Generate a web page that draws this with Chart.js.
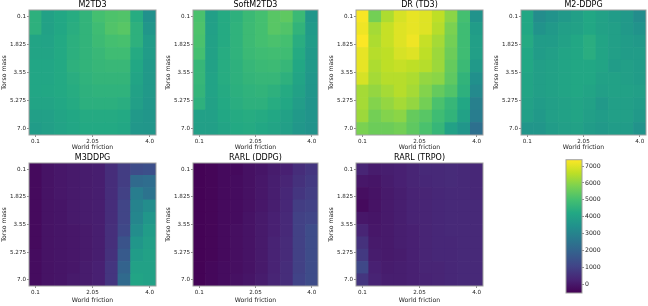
<!DOCTYPE html>
<html>
<head>
<meta charset="utf-8">
<script src="https://cdn.jsdelivr.net/npm/chart.js@4.4.0/dist/chart.umd.min.js"></script>
<style>
  html, body { margin: 0; padding: 0; background: #fff; overflow: hidden; }
  #fig { position: relative; width: 648px; height: 306px; overflow: hidden; background: #fff; }
  .panel { position: absolute; }
</style>
</head>
<body>
<div id="fig"></div>
<script>
// grid of the sweep (cell centres)
const friction = [0.1, 0.5333, 0.9667, 1.4, 1.8333, 2.2667, 2.7, 3.1333, 3.5667, 4.0];
const torsoMass = [0.1, 0.8667, 1.6333, 2.4, 3.1667, 3.9333, 4.7, 5.4667, 6.2333, 7.0];

const frictionTicks = [0.1, 2.05, 4.0];
const frictionTickLabels = ["0.1", "2.05", "4.0"];
const massTicks = [0.1, 1.825, 3.55, 5.275, 7.0];
const massTickLabels = ["0.1", "1.825", "3.55", "5.275", "7.0"];
const colorbarTicks = [0, 1000, 2000, 3000, 4000, 5000, 6000, 7000];

// colour scale limits
const vMin = -506;
const vMax = 7376;

// rows = torso mass (top to bottom), columns = world friction
const m2td3 = [
  [4500, 4000, 4200, 4350, 4600, 5000, 5150, 5200, 4350, 3450],
  [4500, 4000, 4200, 4400, 4600, 4900, 5200, 5300, 4500, 3600],
  [4100, 4050, 4250, 4450, 4600, 4850, 5000, 5050, 4500, 3800],
  [4100, 4100, 4250, 4450, 4600, 4750, 4900, 4900, 4300, 3800],
  [4150, 4150, 4250, 4500, 4600, 4700, 4750, 4750, 4200, 3700],
  [4150, 4150, 4250, 4400, 4550, 4650, 4650, 4650, 4100, 3700],
  [4150, 4200, 4250, 4350, 4500, 4550, 4550, 4550, 4000, 3700],
  [4100, 4100, 4200, 4300, 4450, 4450, 4450, 4400, 3900, 3650],
  [3900, 3950, 4100, 4200, 4300, 4300, 4300, 4250, 3700, 3600],
  [3800, 3900, 4050, 4150, 4250, 4250, 4250, 4200, 3650, 3600]
];
const softM2td3 = [
  [5100, 3900, 4300, 4500, 4800, 5000, 5300, 5400, 4800, 3600],
  [5150, 3950, 4300, 4550, 4850, 5000, 5300, 5200, 4600, 3750],
  [5100, 4000, 4300, 4550, 4850, 5000, 5100, 5000, 4400, 3800],
  [5000, 4000, 4350, 4550, 4800, 4900, 4950, 4900, 4300, 3700],
  [4700, 4000, 4350, 4500, 4700, 4800, 4850, 4700, 4200, 3700],
  [4700, 4050, 4350, 4500, 4650, 4700, 4700, 4500, 4100, 3650],
  [4650, 4050, 4300, 4450, 4550, 4600, 4500, 4300, 4000, 3600],
  [4500, 4000, 4250, 4400, 4500, 4500, 4350, 4200, 3850, 3550],
  [3950, 3950, 4200, 4300, 4350, 4300, 4200, 4000, 3700, 3550],
  [3900, 3900, 4100, 4250, 4300, 4200, 4100, 3900, 3650, 3500]
];
const drTd3 = [
  [7300, 5700, 6400, 6900, 7100, 7000, 6600, 6000, 5000, 3500],
  [7200, 6300, 6700, 7000, 7100, 7000, 6500, 5800, 4900, 3800],
  [7350, 6400, 6700, 7000, 7200, 6700, 6300, 5700, 4900, 3900],
  [7100, 6500, 6600, 6900, 7000, 6600, 6200, 5600, 4900, 3900],
  [7100, 6400, 6600, 6700, 6600, 6500, 6200, 5500, 4800, 3700],
  [6900, 6300, 6500, 6500, 6400, 6100, 6000, 5400, 4600, 3400],
  [6300, 6100, 6300, 6500, 6300, 5900, 5500, 5200, 4500, 3200],
  [6300, 5900, 6100, 6300, 6100, 5700, 5100, 4700, 4200, 2900],
  [6200, 5700, 5900, 6000, 5500, 5300, 4900, 4600, 4000, 2800],
  [5800, 5600, 5600, 5700, 5400, 5100, 4700, 4000, 3600, 2400]
];
const m2ddpg = [
  [4200, 3300, 3500, 3700, 3900, 4200, 4000, 3800, 3700, 3300],
  [4200, 3500, 3700, 3900, 4000, 4200, 4000, 3900, 3700, 3500],
  [4300, 3800, 3800, 4000, 4200, 4400, 4100, 3900, 3800, 3700],
  [4200, 3800, 3900, 4100, 4200, 4400, 4100, 3900, 3800, 3800],
  [4200, 3900, 4000, 4100, 4200, 4200, 4100, 3800, 3900, 3800],
  [4100, 3900, 4000, 4100, 4200, 4200, 4000, 4000, 3900, 3800],
  [4100, 3900, 4000, 4100, 4200, 4100, 3900, 4000, 4000, 3900],
  [4000, 3800, 3900, 4000, 4100, 4000, 3700, 3900, 3900, 3800],
  [3900, 3700, 3900, 4000, 4100, 3900, 3800, 3900, 3900, 3700],
  [3600, 3600, 3800, 3900, 4000, 3800, 3700, 3800, 3800, 3500]
];
const m3ddpg = [
  [-300, -100, 0, 50, 100, 150, 500, 900, 1300, 1400],
  [-300, -100, 0, 50, 100, 150, 500, 900, 2200, 2300],
  [-300, -100, 0, 50, 100, 150, 500, 1000, 2800, 2500],
  [-300, -100, -50, 50, 100, 150, 500, 1100, 3000, 3300],
  [-300, -100, -50, 50, 100, 150, 500, 1100, 3100, 3600],
  [-300, -100, -50, 0, 50, 150, 550, 1200, 3300, 3800],
  [-300, -100, -50, 0, 50, 150, 550, 1500, 3600, 3900],
  [-250, -100, -50, 0, 50, 150, 600, 1700, 3800, 4000],
  [-250, -100, -50, 0, 100, 200, 700, 2000, 4000, 4000],
  [-250, -100, -50, 50, 100, 200, 700, 2200, 4100, 4000]
];
const rarlDdpg = [
  [-450, -400, -300, -300, -150, -50, 100, 200, 500, 700],
  [-450, -400, -300, -250, -150, 0, 150, 300, 600, 800],
  [-450, -400, -300, -250, -150, 0, 150, 350, 700, 900],
  [-450, -400, -300, -250, -150, 0, 150, 350, 900, 1000],
  [-450, -400, -300, -250, -100, 50, 200, 400, 1000, 1100],
  [-450, -400, -300, -200, -100, 50, 200, 400, 1000, 1300],
  [-450, -400, -300, -200, -100, 50, 250, 450, 1000, 1300],
  [-450, -400, -300, -200, -100, 50, 250, 450, 1000, 1300],
  [-450, -350, -250, -200, -100, 50, 250, 500, 1000, 1300],
  [-450, -350, -250, -150, -50, 100, 300, 500, 1050, 1300]
];
const rarlTrpo = [
  [300, 100, 150, 200, 300, 400, 400, 450, 400, 350],
  [0, -50, 100, 200, 300, 350, 400, 450, 400, 350],
  [-200, -100, 50, 150, 250, 300, 350, 400, 400, 350],
  [-300, -100, 50, 150, 250, 300, 350, 400, 400, 400],
  [0, -50, 50, 150, 250, 300, 350, 400, 400, 400],
  [300, 0, 50, 150, 200, 300, 350, 400, 400, 400],
  [600, 50, 50, 150, 200, 300, 350, 350, 400, 400],
  [800, 100, 50, 100, 200, 300, 350, 350, 400, 400],
  [1200, 200, 100, 150, 200, 300, 300, 350, 400, 400],
  [700, 250, 150, 150, 200, 250, 300, 350, 400, 400]
];

const viridis = ["#440154", "#482475", "#414487", "#355f8d", "#2a788e", "#21918c",
                 "#22a884", "#44bf70", "#7ad151", "#bddf26", "#fde725"];

function hexRgb(h) {
  return [parseInt(h.slice(1, 3), 16), parseInt(h.slice(3, 5), 16), parseInt(h.slice(5, 7), 16)];
}
function colorFor(v) {
  let t = (v - vMin) / (vMax - vMin);
  t = Math.max(0, Math.min(1, t)) * (viridis.length - 1);
  const i = Math.min(Math.floor(t), viridis.length - 2);
  const f = t - i;
  const a = hexRgb(viridis[i]), b = hexRgb(viridis[i + 1]);
  const c = a.map((x, k) => Math.round(x + (b[k] - x) * f));
  return "rgb(" + c.join(",") + ")";
}

const FONT = "'DejaVu Sans', sans-serif";

// light grey frame round each plot area
const framePlugin = {
  id: "frame",
  afterDatasetsDraw(chart) {
    const a = chart.chartArea, ctx = chart.ctx;
    ctx.save();
    ctx.strokeStyle = "#a0a0a0";
    ctx.lineWidth = 1;
    ctx.strokeRect(a.left, a.top, a.right - a.left, a.bottom - a.top);
    ctx.restore();
  }
};

const fig = document.getElementById("fig");
function addCanvas(id, left, top, width, height) {
  const d = document.createElement("div");
  d.className = "panel";
  d.style.left = left + "px"; d.style.top = top + "px";
  d.style.width = width + "px"; d.style.height = height + "px";
  const c = document.createElement("canvas");
  c.id = id;
  d.appendChild(c);
  fig.appendChild(d);
  return c;
}

const fStep = friction[1] - friction[0];
const mStep = torsoMass[1] - torsoMass[0];

function heatmap(id, title, values, plot, axisH) {
  const [L, T, R, B] = plot;
  const canvas = addCanvas(id, L - 29, T - 10, (R - L) + 35, (B - T) + 10 + axisH);
  const cells = [], colors = [];
  torsoMass.forEach((m, r) => {
    friction.forEach((f, c) => {
      cells.push({ x: f, y: [m - mStep / 2, m + mStep / 2] });
      colors.push(colorFor(values[r][c]));
    });
  });
  new Chart(canvas, {
    type: "bar",
    data: {
      datasets: [{
        data: cells,
        backgroundColor: colors,
        borderWidth: 0,
        barPercentage: 1,
        categoryPercentage: 1,
        grouped: false
      }]
    },
    options: {
      responsive: true,
      maintainAspectRatio: false,
      animation: false,
      layout: { padding: { left: 0, right: 6, top: 0, bottom: 0 } },
      plugins: {
        legend: { display: false },
        tooltip: { enabled: false },
        title: {
          display: true,
          text: title,
          fullSize: false,
          color: "#000",
          font: { family: FONT, size: 8, weight: "normal", lineHeight: 1.25 },
          padding: 0
        }
      },
      scales: {
        x: {
          type: "linear",
          min: friction[0] - fStep / 2,
          max: friction[friction.length - 1] + fStep / 2,
          offset: false,
          afterBuildTicks: s => { s.ticks = frictionTicks.map(v => ({ value: v })); },
          afterFit: s => { s.height = axisH; },
          ticks: {
            autoSkip: false, maxRotation: 0, padding: 1, color: "#222",
            font: { family: FONT, size: 5.6 },
            callback: (v, i) => frictionTickLabels[i]
          },
          grid: { offset: false, drawOnChartArea: false, tickLength: 2, color: "#444", lineWidth: 0.6 },
          border: { display: false },
          title: { display: true, text: "World friction", color: "#222", padding: 0,
                   font: { family: FONT, size: 6.2, lineHeight: 1.2 } }
        },
        y: {
          type: "linear",
          reverse: true,
          min: torsoMass[0] - mStep / 2,
          max: torsoMass[torsoMass.length - 1] + mStep / 2,
          afterBuildTicks: s => { s.ticks = massTicks.map(v => ({ value: v })); },
          afterFit: s => { s.width = 29; },
          ticks: {
            padding: 1, color: "#222",
            font: { family: FONT, size: 5.6 },
            callback: (v, i) => massTickLabels[i]
          },
          grid: { drawOnChartArea: false, tickLength: 2, color: "#444", lineWidth: 0.6 },
          border: { display: false },
          title: { display: true, text: "Torso mass", color: "#222", padding: { top: 1, bottom: 0 },
                   font: { family: FONT, size: 6.2, lineHeight: 1.2 } }
        }
      }
    },
    plugins: [framePlugin]
  });
}

heatmap("c1", "M2TD3", m2td3, [29, 10, 156, 135], 16);
heatmap("c2", "SoftM2TD3", softM2td3, [193, 10, 318, 135], 16);
heatmap("c3", "DR (TD3)", drTd3, [356, 10, 483, 135], 16);
heatmap("c4", "M2-DDPG", m2ddpg, [521, 10, 646, 135], 16);
heatmap("c5", "M3DDPG", m3ddpg, [29, 163, 156, 286], 18);
heatmap("c6", "RARL (DDPG)", rarlDdpg, [193, 163, 318, 286], 18);
heatmap("c7", "RARL (TRPO)", rarlTrpo, [356, 163, 483, 286], 18);

// colour bar
const cbCanvas = addCanvas("cb", 560, 155, 60, 143);
new Chart(cbCanvas, {
  type: "bar",
  data: {
    labels: [""],
    datasets: [{
      data: [[vMin, vMax]],
      backgroundColor: ctx => {
        const area = ctx.chart.chartArea;
        if (!area) return null;
        const g = ctx.chart.ctx.createLinearGradient(0, area.bottom, 0, area.top);
        viridis.forEach((col, i) => g.addColorStop(i / (viridis.length - 1), col));
        return g;
      },
      borderWidth: 0,
      barPercentage: 1,
      categoryPercentage: 1
    }]
  },
  options: {
    responsive: true,
    maintainAspectRatio: false,
    animation: false,
    layout: { padding: { left: 6, right: 0, top: 4, bottom: 5 } },
    plugins: { legend: { display: false }, tooltip: { enabled: false } },
    scales: {
      x: { display: false },
      y: {
        position: "right",
        min: vMin,
        max: vMax,
        afterBuildTicks: s => { s.ticks = colorbarTicks.map(v => ({ value: v })); },
        afterFit: s => { s.width = 38; },
        ticks: { padding: 1, color: "#222", font: { family: FONT, size: 6.2 },
                 callback: v => String(v) },
        grid: { drawOnChartArea: false, tickLength: 2, color: "#444", lineWidth: 0.6 },
        border: { display: false }
      }
    }
  },
  plugins: [framePlugin]
});
</script>
</body>
</html>
